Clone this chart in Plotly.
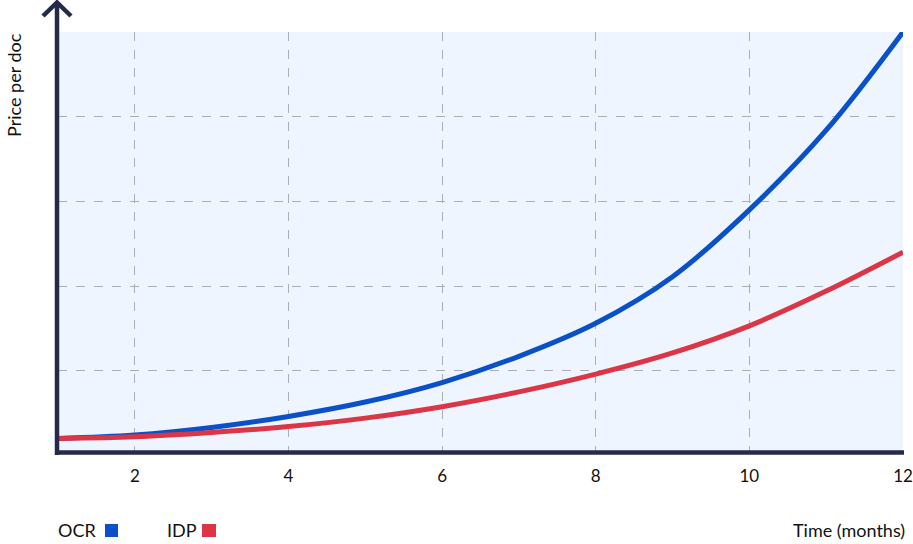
import plotly.graph_objects as go

months = [1, 2, 3, 4, 5, 6, 7, 8, 9, 10, 11, 12]
ocr_price = [0.20, 0.24, 0.33, 0.46, 0.63, 0.86, 1.17, 1.56, 2.11, 2.90, 3.84, 5.00]
idp_price = [0.20, 0.22, 0.27, 0.34, 0.44, 0.575, 0.75, 0.96, 1.21, 1.53, 1.94, 2.40]
x_ticks = [2, 4, 6, 8, 10, 12]
y_grid = [1, 2, 3, 4]

BLUE = "#0a50c6"
RED = "#dc3545"
NAVY = "#262a4a"
GRID = "#a9aebb"
FONT = "Lato"

fig = go.Figure()
fig.add_trace(go.Scatter(x=months, y=ocr_price, mode="lines", name="OCR",
                         line=dict(color=BLUE, width=5, shape="spline", smoothing=1.0),
                         showlegend=False, hoverinfo="skip"))
fig.add_trace(go.Scatter(x=months, y=idp_price, mode="lines", name="IDP",
                         line=dict(color=RED, width=5, shape="spline", smoothing=1.0),
                         showlegend=False, hoverinfo="skip"))

W, H = 913, 544
L, R, T, B = 58, 10, 32, 92
pw, ph = W - L - R, H - T - B

def px(xp):
    return (xp - L) / pw

def py(yp):
    return (H - B - yp) / ph

shapes = [
    dict(type="line", xref="paper", yref="paper", x0=px(57), x1=px(57), y0=py(455), y1=py(3),
         line=dict(color=NAVY, width=4.5), layer="above"),
    dict(type="path", xref="paper", yref="paper",
         path=f"M {px(43)},{py(16)} L {px(57)},{py(2.5)} L {px(71)},{py(16)}",
         line=dict(color=NAVY, width=4.5), layer="above"),
    dict(type="line", xref="paper", yref="paper", x0=px(55), x1=px(904), y0=py(452.5), y1=py(452.5),
         line=dict(color=NAVY, width=4.5), layer="above"),
    dict(type="rect", xref="paper", yref="paper", x0=px(105), x1=px(118), y0=py(537), y1=py(524),
         fillcolor=BLUE, line=dict(width=0)),
    dict(type="rect", xref="paper", yref="paper", x0=px(202), x1=px(216), y0=py(537), y1=py(524),
         fillcolor=RED, line=dict(width=0)),
]

annotations = [
    dict(text="Price per doc", xref="paper", yref="paper", x=px(14), y=py(31), xanchor="center",
         yanchor="top", textangle=-90, showarrow=False, font=dict(family=FONT, size=18, color="#111")),
    dict(text="Time (months)", xref="paper", yref="paper", x=px(907), y=py(530), xanchor="right",
         yanchor="middle", showarrow=False, font=dict(family=FONT, size=18, color="#111")),
    dict(text="OCR", xref="paper", yref="paper", x=px(56), y=py(530), xanchor="left",
         yanchor="middle", showarrow=False, font=dict(family=FONT, size=18, color="#111")),
    dict(text="IDP", xref="paper", yref="paper", x=px(165), y=py(530), xanchor="left",
         yanchor="middle", showarrow=False, font=dict(family=FONT, size=18, color="#111")),
]

fig.update_layout(
    width=W, height=H, autosize=False,
    margin=dict(l=L, r=R, t=T, b=B, pad=0, autoexpand=False),
    paper_bgcolor="white",
    plot_bgcolor="#eef5ff",
    font=dict(family=FONT, size=17, color="#111"),
    shapes=shapes,
    annotations=annotations,
    xaxis=dict(range=[1, 12], tickvals=x_ticks, ticktext=[str(v) for v in x_ticks],
               showgrid=True, gridcolor=GRID, griddash="dash", gridwidth=1,
               zeroline=False, showline=False, ticks="outside", ticklen=9, automargin=False,
               tickcolor="rgba(0,0,0,0)", tickfont=dict(family=FONT, size=17, color="#111")),
    yaxis=dict(range=[0.04, 5.0], tickvals=y_grid, showticklabels=False, automargin=False,
               showgrid=True, gridcolor=GRID, griddash="dash", gridwidth=1,
               zeroline=False, showline=False, ticks=""),
)

post = (
    "document.documentElement.style.overflow='hidden';"
    "document.body.style.margin='0';document.body.style.padding='0';"
    "document.body.style.overflow='hidden';"
)

fig.write_html(
    "out.html",
    config={"responsive": False, "displayModeBar": False},
    post_script=post,
)
